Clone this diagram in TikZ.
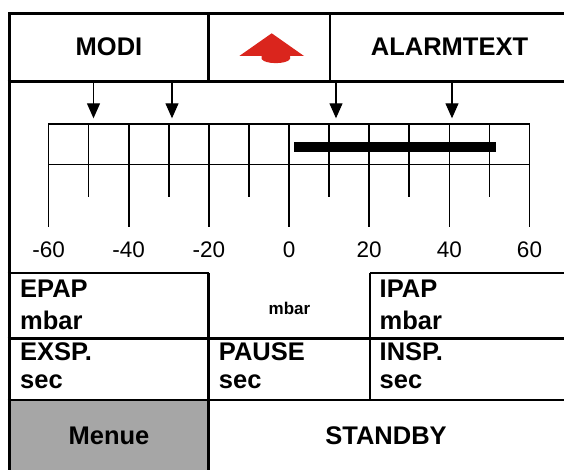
\documentclass[tikz,border=0pt]{standalone}
\usepackage{fontspec}
\setmainfont{Liberation Sans}
\usetikzlibrary{arrows.meta}
\definecolor{alarmred}{RGB}{218,37,29}
\definecolor{menugray}{RGB}{166,166,166}
\begin{document}
\begin{tikzpicture}[x=1pt,y=-1pt,
  frame/.style={line width=3pt},
  cell/.style={line width=2.4pt},
  scaleline/.style={line width=1.6pt},
  pointer/.style={line width=1.2pt,-{Triangle[width=13pt,length=15pt]}},
  big/.style={font=\fontsize{25.5}{29}\selectfont\bfseries,inner sep=0pt},
  unit/.style={font=\fontsize{17}{20}\selectfont\bfseries,inner sep=0pt},
  tick label/.style={font=\fontsize{22.5}{26}\selectfont,inner sep=0pt}]
\useasboundingbox (0,0) rectangle (564,470);

% grey menu key
\fill[menugray] (9,400) rectangle (208.6,472);

% outer frame (open towards right and bottom)
\draw[frame] (9,472) -- (9,13.3) -- (568,13.3);

% header row
\draw[cell] (7.5,81.5) -- (568,81.5);
\draw[cell] (208.6,13.3) -- (208.6,81.5);
\draw[cell] (330.2,13.3) -- (330.2,81.5);
\node[big] (modi) at (109,47) {MODI};
\node[big] (alarm) at (449.5,47) {ALARMTEXT};

% red alarm indicator
\fill[alarmred] (271.7,33.3) -- (304,56) -- (290,56) -- (290,59)
  .. controls (287,64.5) and (264.5,64.5) .. (261.7,59) -- (261.7,56)
  -- (239.3,56) -- cycle;

% scale: box, ticks and labels
\draw[scaleline] (48.6,124.3) rectangle (529.5,164.5);
\foreach \i in {1,...,11}{
  \draw[scaleline] ({48.6+40.075*\i},124.3) -- ({48.6+40.075*\i},164.5);
}
\foreach \i in {1,3,...,11}{
  \draw[scaleline] ({48.6+40.075*\i},164.5) -- ({48.6+40.075*\i},196.7);
}
\foreach \i/\v in {0/-60,2/-40,4/-20,6/0,8/20,10/40,12/60}{
  \draw[scaleline] ({48.6+40.075*\i},164.5) -- ({48.6+40.075*\i},226.7);
  \node[tick label] (lab\i) at ({48.6+40.075*\i},249.5) {\v};
}

% measured range bar
\fill (294,141.7) rectangle (496,152.3);

% set-point pointers
\foreach \n/\x in {1/93.5,2/172,3/336,4/452}{
  \coordinate (ptop\n) at (\x,81.5);
  \coordinate (ptip\n) at (\x,118.3);
  \draw[pointer] (ptop\n) -- (ptip\n);
}

% parameter grid
\draw[cell] (7.5,273) -- (208.6,273);
\draw[cell] (369.8,273) -- (568,273);
\draw[cell] (7.5,338.5) -- (568,338.5);
\draw[cell] (7.5,400) -- (568,400);
\draw[cell] (208.6,273) -- (208.6,472);
\draw[cell] (369.8,273) -- (369.8,400);

\node[big,anchor=base west] (epap) at (20,297) {EPAP};
\node[big,anchor=base west] (epapu) at (20,329.5) {mbar};
\node[unit] (midu) at (289.5,308) {mbar};
\node[big,anchor=base west] (ipap) at (379.5,297) {IPAP};
\node[big,anchor=base west] (ipapu) at (379.5,329.5) {mbar};

\node[big,anchor=base west] (exsp) at (20,360.5) {EXSP.};
\node[big,anchor=base west] (exspu) at (20,388.5) {sec};
\node[big,anchor=base west] (pause) at (218.7,360.5) {PAUSE};
\node[big,anchor=base west] (pauseu) at (218.7,388.5) {sec};
\node[big,anchor=base west] (insp) at (379.5,360.5) {INSP.};
\node[big,anchor=base west] (inspu) at (379.5,388.5) {sec};

% bottom row
\node[big] (menu) at (109,436) {Menue};
\node[big] (standby) at (386,436) {STANDBY};
\end{tikzpicture}
\end{document}
